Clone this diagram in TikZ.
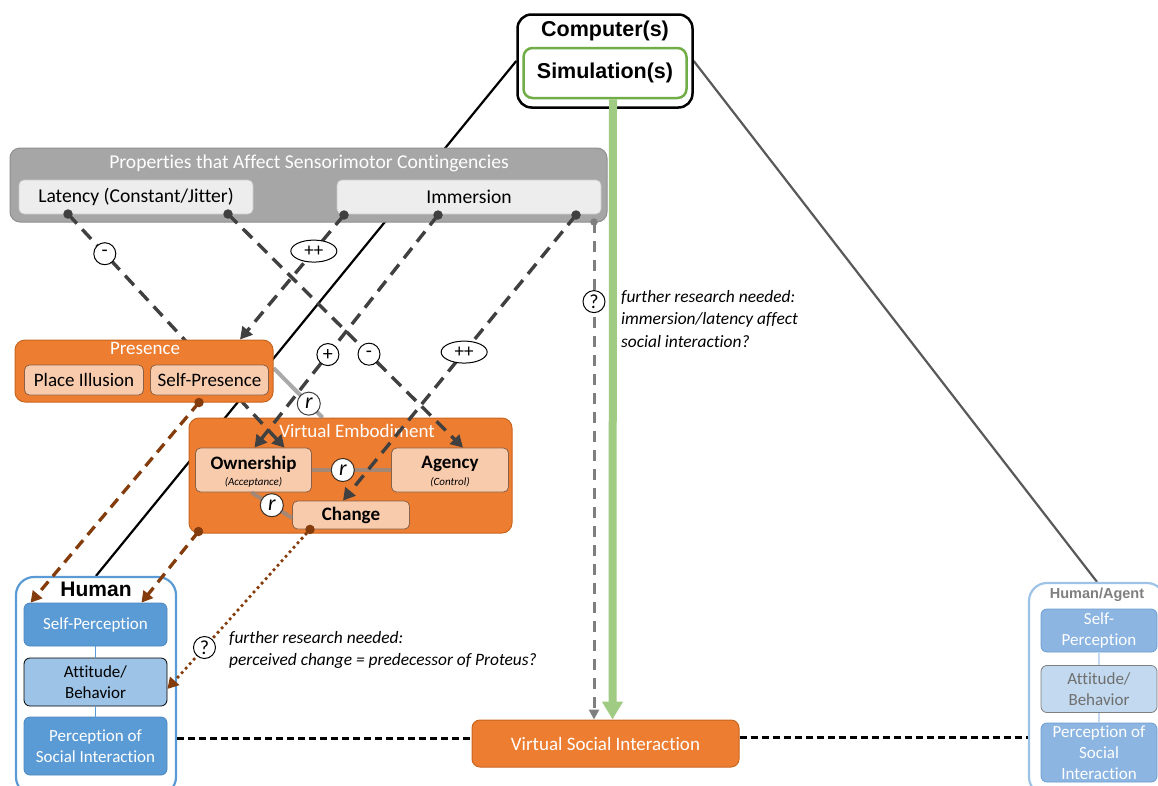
\documentclass[tikz,border=0pt]{standalone}
\usepackage{fontspec}
\setmainfont{Carlito}[Ligatures=NoCommon]
\newfontfamily\headfont{Liberation Sans}
\usetikzlibrary{arrows.meta,calc,shapes.geometric,backgrounds}

\pgfdeclarelayer{front}
\pgfsetlayers{background,main,front}

\definecolor{orangeF}{HTML}{ED7D31}
\definecolor{orangeD}{HTML}{C9661F}
\definecolor{peach}{HTML}{F8CBAD}
\definecolor{peachD}{HTML}{8A6046}
\definecolor{propG}{HTML}{A6A6A6}
\definecolor{propD}{HTML}{8F8F8F}
\definecolor{propL}{HTML}{EDEDED}
\definecolor{blueF}{HTML}{5B9BD5}
\definecolor{blueL}{HTML}{9DC3E6}
\definecolor{blueD}{HTML}{4A86BF}
\definecolor{fadeF}{HTML}{8CB5E2}
\definecolor{fadeD}{HTML}{6C9DD2}
\definecolor{fadeL}{HTML}{C2D9EF}
\definecolor{fadeT}{HTML}{6F6F6F}
\definecolor{greenD}{HTML}{70AD47}
\definecolor{greenL}{HTML}{9FCB83}
\definecolor{darkL}{HTML}{404040}
\definecolor{brownL}{HTML}{843C0C}
\definecolor{grayQ}{HTML}{7F7F7F}
\definecolor{grayR}{HTML}{595959}
\definecolor{grayLink}{HTML}{8C8C8C}

\newcommand{\fsz}[1]{\fontsize{#1}{#1}\selectfont}

\tikzset{
  roundbox/.style={rectangle, inner sep=0pt, align=center},
  propframe/.style={roundbox, rounded corners=10pt, fill=propG, draw=propD, line width=1pt},
  propsub/.style={roundbox, rounded corners=5pt, fill=propL, draw=propL!85!black, line width=0.6pt, font=\fsz{19.6}},
  orframe/.style={roundbox, rounded corners=10pt, fill=orangeF, draw=orangeD, line width=1pt},
  orsub/.style={roundbox, rounded corners=5pt, fill=peach, draw=peachD, line width=0.8pt},
  whitetitle/.style={text=white, font=\fsz{19}, inner sep=0pt},
  boldtext/.style={inner sep=0pt, font=\bfseries\fsz{19}},
  smallital/.style={inner sep=0pt, font=\itshape\fsz{11}},
  hframe/.style={roundbox, rounded corners=18pt, fill=white, line width=2.2pt},
  hsub/.style={roundbox, rounded corners=6pt, line width=0.8pt, font=\fontsize{17}{20.8}\selectfont},
  bead/.style={circle, fill=#1, inner sep=0pt, minimum size=9.5pt},
  infl/.style={draw=darkL, line width=3.4pt, dash pattern=on 13pt off 8pt, -{Triangle[length=12pt,width=13pt]}},
  sign/.style={circle, draw=black, fill=white, line width=1pt, inner sep=0pt, minimum size=22pt, font=\fsz{20}, solid},
  signwide/.style={ellipse, draw=black, fill=white, line width=1pt, inner sep=0pt, minimum width=46pt, minimum height=22pt, font=\fsz{19}, solid},
  rmark/.style={circle, draw=black, fill=white, line width=1pt, inner sep=0pt, minimum size=23pt, font=\itshape\fsz{22}, solid},
  rlink/.style={draw=grayLink, draw opacity=0.75, line width=4pt},
  browndash/.style={draw=brownL, line width=3.3pt, dash pattern=on 11pt off 7pt, -{Triangle[length=11pt,width=12pt]}},
  browndot/.style={draw=brownL, line width=3.8pt, dash pattern=on 0pt off 6pt, line cap=round, -{Triangle[length=11pt,width=12pt]}},
  qline/.style={draw=grayQ, line width=3pt, dash pattern=on 11pt off 8pt, -{Triangle[length=10pt,width=10pt]}},
  greenarrow/.style={draw=greenL, line width=8pt, -{Triangle[length=18pt,width=20pt]}},
  sociallink/.style={draw=black, line width=2.2pt, dash pattern=on 7pt off 4pt},
  note/.style={inner sep=0pt, align=left, font=\itshape\fontsize{17.4}{22.5}\selectfont}
}

\begin{document}
\begin{tikzpicture}[x=1pt,y=-1pt]
\useasboundingbox (0,0) rectangle (1158,785);

% ---------- computer and simulation ----------
\node[roundbox, rounded corners=14pt, draw=black, line width=2.5pt, fill=white,
      minimum width=175pt, minimum height=93pt] (comp) at (605,61) {};
\node[inner sep=0pt, font=\headfont\bfseries\fsz{21.5}] (compT) at (605,31) {Computer(s)};
\node[roundbox, rounded corners=9pt, draw=greenD, line width=2.5pt, fill=white,
      minimum width=163pt, minimum height=50pt, font=\headfont\bfseries\fsz{21.5}] (sim) at (605,73) {Simulation(s)};

% ---------- properties ----------
\node[propframe, minimum width=597pt, minimum height=74pt] (prop) at (308.5,185) {};
\node[whitetitle, font=\fsz{19.6}] (propT) at (309,163) {Properties that Affect Sensorimotor Contingencies};
\node[propsub, minimum width=234pt, minimum height=34pt] (lat) at (136,197) {Latency (Constant/Jitter)};
\node[propsub, minimum width=264pt, minimum height=34pt] (imm) at (469,197) {Immersion};

% ---------- presence (drawn above the influence lines) ----------
\begin{pgfonlayer}{front}
\node[orframe, minimum width=258pt, minimum height=62pt] (pres) at (144,371) {};
\node[whitetitle] (presT) at (145,348) {Presence};
\node[orsub, minimum width=119pt, minimum height=30pt, font=\fsz{19}] (pi) at (84,380) {Place Illusion};
\node[orsub, minimum width=118pt, minimum height=30pt, font=\fsz{19}] (sp) at (209.5,380) {Self-Presence};
\node[bead=brownL] (bA) at ($(pres.south)+(55,0)$) {};
\end{pgfonlayer}

% ---------- virtual embodiment ----------
\node[orframe, minimum width=323pt, minimum height=115pt] (ve) at (350.5,475.5) {};
\node[whitetitle] (veT) at (357,431) {Virtual Embodiment};
\node[orsub, minimum width=116pt, minimum height=44pt] (own) at (253.5,470) {};
\node[boldtext] (ownT) at (253.5,464) {Ownership};
\node[smallital] (ownS) at (253.5,482) {(Acceptance)};
\node[orsub, minimum width=117pt, minimum height=44pt] (agc) at (450,470) {};
\node[boldtext] (agcT) at (450,464) {Agency};
\node[smallital] (agcS) at (450,482) {(Control)};
\node[orsub, minimum width=117pt, minimum height=28pt, font=\bfseries\fsz{19}] (chg) at (351,515) {Change};

% correlations
\draw[rlink] ($(pres.east)+(0,-3)$) -- node[rmark, pos=0.72] (r1) {r} ($(ve.north west)+(134,0)$);
\draw[rlink] (own.east) -- node[rmark, pos=0.39] (r2) {r} (agc.west);
\draw[rlink] ($(own.south)+(-2,0)$) -- node[rmark, pos=0.5] (r3) {r} ($(chg.west)+(0,3)$);

% ---------- human ----------
\node[hframe, draw=blueF, minimum width=160pt, minimum height=218pt] (human) at (96,686) {};
\node[inner sep=0pt, font=\headfont\bfseries\fsz{21}] (humanT) at (96,589) {Human};
\node[hsub, fill=blueF, draw=blueD, text=white, minimum width=143pt, minimum height=43pt] (hsp) at (95.5,624.5) {Self-Perception};
\node[hsub, fill=blueL, draw=black, text=black, minimum width=143pt, minimum height=48pt] (hab) at (95.5,682) {Attitude/\\Behavior};
\node[hsub, fill=blueF, draw=blueD, text=white, minimum width=143pt, minimum height=58pt] (hpsi) at (95.5,746) {Perception of\\Social Interaction};
\draw[blueF, line width=1.3pt] (hsp.south) -- (hab.north);
\draw[blueF, line width=1.3pt] (hab.south) -- (hpsi.north);

% ---------- human / agent ----------
\node[hframe, draw=blueL, minimum width=136pt, minimum height=212pt] (agent) at (1097,689) {};
\node[inner sep=0pt, text=grayQ, font=\headfont\bfseries\fsz{14.5}] (agentT) at (1097,595) {Human/Agent};
\node[hsub, fill=fadeF, draw=fadeD, text=white, minimum width=116pt, minimum height=43pt] (asp) at (1099,630.5) {Self-\\Perception};
\node[hsub, fill=fadeL, draw=grayQ, text=fadeT, minimum width=116pt, minimum height=47pt] (aab) at (1099,689) {Attitude/\\Behavior};
\node[hsub, fill=fadeF, draw=fadeD, text=white, minimum width=116pt, minimum height=59pt] (apsi) at (1099,752.5) {Perception of\\Social\\Interaction};
\draw[fadeL, line width=1.3pt] (asp.south) -- (aab.north);
\draw[fadeL, line width=1.3pt] (aab.south) -- (apsi.north);

% ---------- virtual social interaction ----------
\node[orframe, rounded corners=8pt, minimum width=267pt, minimum height=47pt, text=white, font=\fsz{19}] (vsi) at (605.5,743.5) {Virtual Social Interaction};
\coordinate (lkL) at ($(vsi.west)+(0,-5)$);
\coordinate (lkR) at ($(vsi.east)+(0,-6)$);
\draw[sociallink] (lkL -| human.east) -- (lkL);
\draw[sociallink] (lkR) -- (lkR -| agent.west);

% ---------- structural lines behind everything ----------
\begin{pgfonlayer}{background}
\draw[black, line width=2.2pt] (comp.west) -- (human.north);
\draw[grayR, line width=2.2pt] (comp.east) -- (agent.north);
\end{pgfonlayer}

% ---------- influence lines ----------
\node[bead=darkL] (dA) at (68,214) {};
\node[bead=darkL] (dB) at (228,214) {};
\node[bead=darkL] (dC) at (344,215) {};
\node[bead=darkL] (dD) at (438,215) {};
\node[bead=darkL] (dE) at (576,215) {};
\node[bead=grayQ, minimum size=7.5pt] (dQ) at (594,222) {};

\draw[infl] (dA.center) -- node[sign, pos=0.17] (sA) {-} ($(own.north)+(31,0)$);
\draw[infl] (dB.center) -- node[sign, pos=0.6] (sB) {-} ($(agc.north)+(13,0)$);
\draw[infl] (dC.center) -- node[signwide, pos=0.29] (sC) {++} ($(pres.north)+(96,0)$);
\draw[infl] (dD.center) -- node[sign, pos=0.6] (sD) {+} ($(own.north)+(1,0)$);
\draw[infl] (dE.center) -- node[signwide, pos=0.48] (sE) {++} ($(chg.north)+(-8,0)$);

% open question: immersion/latency and social interaction
\draw[qline] (dQ.center) -- node[sign, pos=0.16] (qA) {?} (dQ.center |- vsi.north);
\node[note, anchor=west] (noteA) at (621,319) {further research needed:\\immersion/latency affect\\social interaction?};

% simulation feeds the virtual social interaction
\draw[greenarrow] ($(sim.south)+(8,0)$) -- ($(vsi.north)+(7,0)$);

% ---------- embodiment effects on the human ----------
\node[bead=brownL] (bB) at ($(ve.south west)+(10,-2)$) {};
\node[bead=brownL] (bC) at ($(chg.south)+(-41,0)$) {};
\draw[browndash] (bA.center) -- ($(hsp.north west)+(7,0)$);
\draw[browndash] (bB.center) -- ($(hsp.north)+(46,0)$);
\draw[browndot] (bC.center) -- node[sign, pos=0.74] (qB) {?} ($(hab.east)+(0,7)$);
\node[note, anchor=west] (noteB) at (229,650) {further research needed:\\perceived change = predecessor of Proteus?};

\end{tikzpicture}
\end{document}
